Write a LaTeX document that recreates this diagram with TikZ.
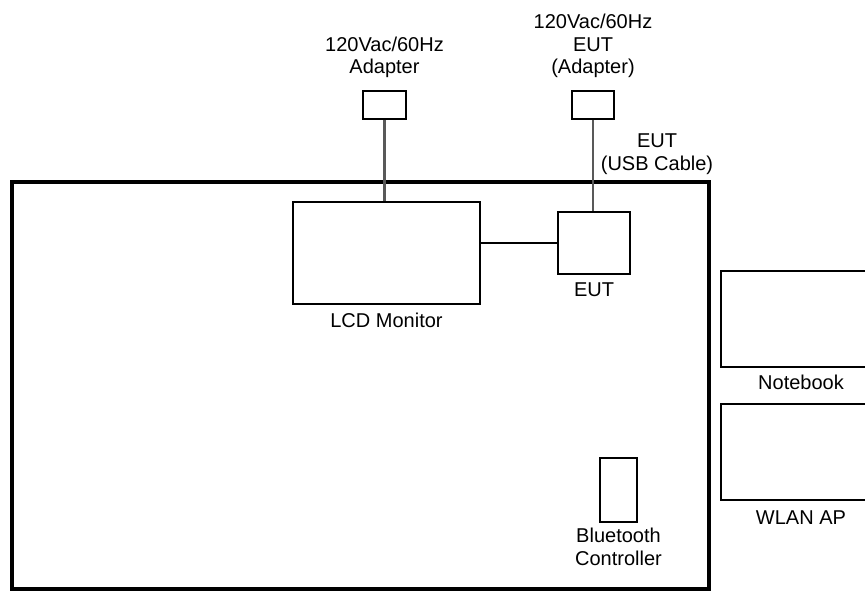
\documentclass[tikz,border=0pt]{standalone}
\usepackage{fontspec}
\setmainfont{Liberation Sans}
\usetikzlibrary{positioning}

\begin{document}
\begin{tikzpicture}[
  x=0.75pt, y=-0.75pt,
  unit/.style={draw=black, line width=1.2pt, inner sep=0pt, fill=white},
  table_frame/.style={draw=black, line width=3pt},
  cable/.style={draw=black!65, line width=1.6pt},
  link/.style={draw=black, line width=1.0pt},
  lbl/.style={align=center, inner sep=0pt, font=\fontsize{15}{17}\selectfont}
]
\useasboundingbox (0,0) rectangle (865,592);

% Table
\node[table_frame, minimum width=697*0.75pt, minimum height=407*0.75pt, inner sep=0pt] (table) at (360.5, 385.5) {};

% Units on the table
\node[unit, minimum width=187*0.75pt, minimum height=102*0.75pt] (lcd) at (386.5, 253) {};
\node[unit, minimum width=72*0.75pt, minimum height=62*0.75pt] (eut) at (594, 243) {};
\node[unit, minimum width=37*0.75pt, minimum height=64*0.75pt] (bt) at (618.5, 490) {};

% Adapters
\node[unit, minimum width=43*0.75pt, minimum height=28*0.75pt] (adp1) at (384.5, 105) {};
\node[unit, minimum width=42*0.75pt, minimum height=28*0.75pt] (adp2) at (593, 105) {};

% Support units (off the table)
\node[unit, minimum width=160*0.75pt, minimum height=96*0.75pt] (nb) at (801, 319) {};
\node[unit, minimum width=160*0.75pt, minimum height=96*0.75pt] (ap) at (801, 452) {};

% --- Connections ---
\draw[cable] (adp1.south) -- (adp1.south |- lcd.north);
\draw[cable] (adp2.south) -- (adp2.south |- eut.north);
\draw[link] (lcd.east |- eut.west) -- (eut.west);

% --- Labels ---
\node[lbl, above=9pt of adp1] (adp1_lbl) {120Vac/60Hz\\Adapter};
\node[lbl, above=9pt of adp2] (adp2_lbl) {120Vac/60Hz\\EUT\\(Adapter)};
\node[lbl] (usb_lbl) at (657, 154) {EUT\\(USB Cable)};
\node[lbl, below=6pt of eut] (eut_lbl) {EUT};
\node[lbl, below=6pt of lcd] (lcd_lbl) {LCD Monitor};
\node[lbl, below=5pt of nb] (nb_lbl) {Notebook};
\node[lbl, below=7pt of ap] (ap_lbl) {WLAN AP};
\node[lbl, below=4pt of bt] (bt_lbl) {Bluetooth\\Controller};

\end{tikzpicture}
\end{document}
